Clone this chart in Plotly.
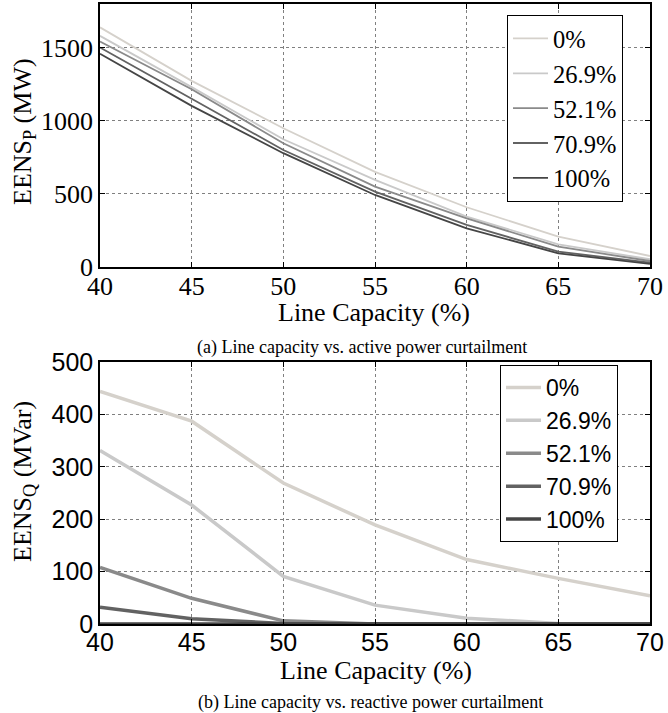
import plotly.graph_objects as go

capacity = [40, 45, 50, 55, 60, 65, 70]
series_names = ["0%", "26.9%", "52.1%", "70.9%", "100%"]

eens_p = {
    "0%":    [1640, 1274, 950, 651, 409, 208, 75],
    "26.9%": [1582, 1231, 874, 596, 345, 155, 53],
    "52.1%": [1543, 1217, 847, 550, 333, 139, 41],
    "70.9%": [1502, 1149, 801, 516, 288, 105, 30],
    "100%":  [1459, 1103, 779, 493, 265, 94, 21],
}
eens_q = {
    "0%":    [444, 387, 269, 189, 123, 87, 54],
    "26.9%": [331, 227, 91, 36, 11, 1, 0],
    "52.1%": [108, 49, 6, 0, 0, 0, 0],
    "70.9%": [32, 10, 1, 0, 0, 0, 0],
    "100%":  [0, 0, 0, 0, 0, 0, 0],
}
colors = ["#d5d1cb", "#c9c9c9", "#8a8a8a", "#626262", "#454545"]

W, H = 668, 713
L, R, T, B = 100, 18, 4, 89
PH = H - T - B
PW = W - L - R


def py(p):
    return (H - B - p) / PH


def px(p):
    return (p - L) / PW


SERIF = "Liberation Serif"
SANS = "Liberation Sans"

fig = go.Figure()
for name, c in zip(series_names, colors):
    fig.add_trace(go.Scatter(x=capacity, y=eens_p[name], mode="lines", name=name,
                             line=dict(color=c, width=1.8), xaxis="x", yaxis="y",
                             legend="legend"))
for name, c in zip(series_names, colors):
    fig.add_trace(go.Scatter(x=capacity, y=eens_q[name], mode="lines", name=name,
                             line=dict(color=c, width=3.5), xaxis="x2", yaxis="y2",
                             legend="legend2"))

axis_common = dict(showline=True, linecolor="black", linewidth=1.5, mirror="ticks",
                   ticks="inside", ticklen=5, tickcolor="black",
                   showgrid=True, gridcolor="#808080", gridwidth=1, griddash="dot",
                   zeroline=False, automargin=False)

fig.update_layout(
    template="none",
    width=W, height=H,
    margin=dict(l=L, r=R, t=T, b=B, autoexpand=False),
    font=dict(family=SERIF, size=26, color="black"),
    paper_bgcolor="white", plot_bgcolor="white",
    xaxis=dict(domain=[0, 1], anchor="y", range=[40, 70], tickvals=capacity,
               ticklabelstandoff=-5,
               tickfont=dict(family=SERIF, size=26, color="black"), **axis_common),
    yaxis=dict(domain=[py(267), 1], anchor="x", range=[0, 1800],
               tickvals=[0, 500, 1000, 1500],
               tickfont=dict(family=SERIF, size=26, color="black"), **axis_common),
    xaxis2=dict(domain=[0, 1], anchor="y2", range=[40, 70], tickvals=capacity,
                ticklabelstandoff=-5,
                tickfont=dict(family=SANS, size=25, color="black"), **axis_common),
    yaxis2=dict(domain=[0, py(362)], anchor="x2", range=[0, 500],
                tickvals=[0, 100, 200, 300, 400, 500],
                tickfont=dict(family=SANS, size=25, color="black"), **axis_common),
    legend=dict(x=px(507), y=py(15), xanchor="left", yanchor="top",
                bgcolor="white", bordercolor="black", borderwidth=1,
                font=dict(family=SERIF, size=24.5, color="black"),
                itemwidth=35, tracegroupgap=0),
    legend2=dict(x=px(500), y=py(365), xanchor="left", yanchor="top",
                 bgcolor="white", bordercolor="black", borderwidth=1,
                 font=dict(family=SANS, size=23, color="black"),
                 itemwidth=35, tracegroupgap=0),
    showlegend=True,
)


def ann(text, x, y, size, angle=0):
    return dict(text=text, x=px(x), y=py(y), xref="paper", yref="paper",
                xanchor="center", yanchor="middle", showarrow=False,
                textangle=angle, font=dict(family=SERIF, size=size, color="black"))


annotations = [
    ann("Line Capacity (%)", 374, 312, 26),
    ann("(a) Line capacity vs. active power curtailment", 362, 347, 18),
    ann("EENS<sub>P</sub> (MW)", 24, 132, 26, -90),
    ann("Line Capacity (%)", 376, 671, 26),
    ann("(b) Line capacity vs. reactive power curtailment", 370, 702, 18),
    ann("EENS<sub>Q</sub> (MVar)", 24, 482, 26, -90),
]
fig.update_layout(annotations=annotations)

fig.write_html("out.html", config={"displayModeBar": False},
               post_script="document.body.style.margin='0px';")
